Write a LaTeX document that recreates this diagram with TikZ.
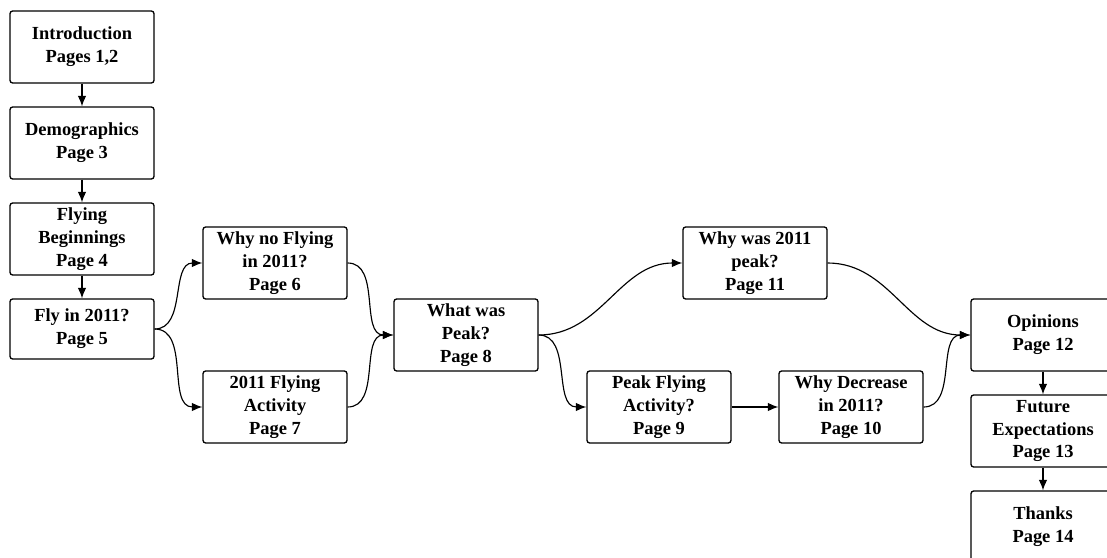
\documentclass[tikz,border=0pt]{standalone}
\usepackage{fontspec}
\setmainfont{Liberation Serif}
\usepackage{tikz}
\usetikzlibrary{arrows.meta}

\begin{document}
\begin{tikzpicture}[x=0.02cm,y=-0.02cm,
  font=\fontsize{10.5}{13}\selectfont\bfseries,
  pagebox/.style={draw,line width=0.75pt,rounded corners=1.5pt,align=center,
    minimum width=2.88cm,minimum height=1.44cm,inner sep=1pt},
  link/.style={line width=0.65pt,-{Latex[length=2.1mm,width=1.7mm]}}]

\clip (0,0) rectangle (1107,558);

% left column
\node[pagebox] (intro) at (82,47) {Introduction\\Pages 1,2};
\node[pagebox] (demo) at (82,143) {Demographics\\Page 3};
\node[pagebox] (begin) at (82,239) {Flying\\Beginnings\\Page 4};
\node[pagebox,minimum height=1.2cm] (fly) at (82,329) {Fly in 2011?\\Page 5};

\node[pagebox] (whyno) at (275,263) {Why no Flying\\in 2011?\\Page 6};
\node[pagebox] (act) at (275,407) {2011 Flying\\Activity\\Page 7};

\node[pagebox] (peak) at (466,335) {What was\\Peak?\\Page 8};

\node[pagebox] (whypeak) at (755,263) {Why was 2011\\peak?\\Page 11};
\node[pagebox] (peakact) at (659,407) {Peak Flying\\Activity?\\Page 9};
\node[pagebox] (decr) at (851,407) {Why Decrease\\in 2011?\\Page 10};

% right column
\node[pagebox] (opin) at (1043,335) {Opinions\\Page 12};
\node[pagebox] (future) at (1043,431) {Future\\Expectations\\Page 13};
\node[pagebox] (thanks) at (1043,527) {Thanks\\Page 14};

\draw[link] (intro) -- (demo);
\draw[link] (demo) -- (begin);
\draw[link] (begin) -- (fly);
\draw[link] (fly.east) to[out=0,in=180] (whyno.west);
\draw[link] (fly.east) to[out=0,in=180] (act.west);
\draw[link] (whyno.east) to[out=0,in=180] (peak.west);
\draw[link] (act.east) to[out=0,in=180] (peak.west);
\draw[link] (peak.east) to[out=0,in=180] (whypeak.west);
\draw[link] (peak.east) to[out=0,in=180] (peakact.west);
\draw[link] (peakact) -- (decr);
\draw[link] (whypeak.east) to[out=0,in=180] (opin.west);
\draw[link] (decr.east) to[out=0,in=180] (opin.west);
\draw[link] (opin) -- (future);
\draw[link] (future) -- (thanks);

\end{tikzpicture}
\end{document}
